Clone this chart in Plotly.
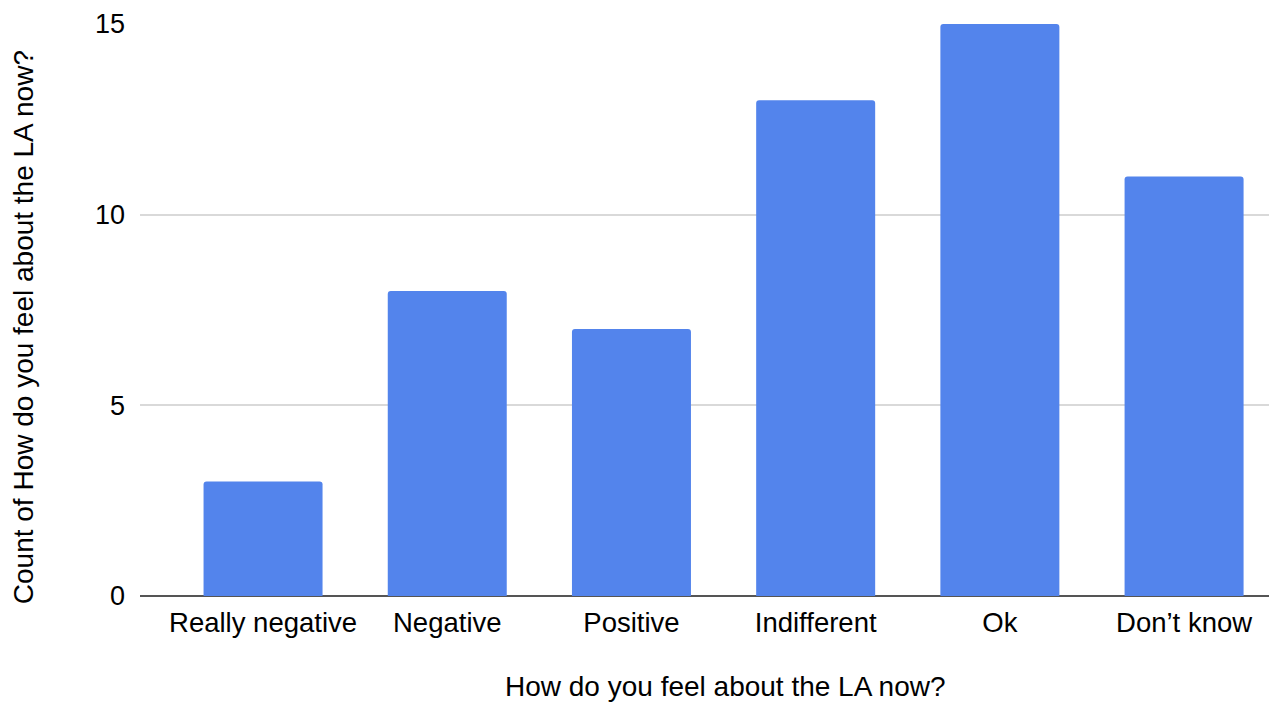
import plotly.graph_objects as go

# Survey responses: how people feel about the LA now
categories = ["Really negative", "Negative", "Positive", "Indifferent", "Ok", "Don’t know"]
counts = [3, 8, 7, 13, 15, 11]
y_ticks = [0, 5, 10, 15]

x_title = "How do you feel about the LA now?"
y_title = "Count of How do you feel about the LA now?"

FONT = "Liberation Sans, Arial, Helvetica, sans-serif"
BAR_COLOR = "#5384ec"

fig = go.Figure(
    go.Bar(
        x=categories,
        y=counts,
        marker=dict(color=BAR_COLOR, line=dict(width=0)),
        width=0.646,
    )
)

fig.update_layout(
    width=1269,
    height=705,
    margin=dict(l=140, r=0, t=24, b=109),
    paper_bgcolor="white",
    plot_bgcolor="white",
    barcornerradius=3,
    showlegend=False,
    font=dict(family=FONT, size=27, color="#000000"),
)

fig.update_xaxes(
    type="category",
    range=[-0.668, 5.461],
    showgrid=False,
    showline=False,
    ticks="",
    ticklabelstandoff=7,
    tickfont=dict(size=27.5, color="#000000"),
    automargin=False,
)

fig.update_yaxes(
    range=[0, 15],
    tickvals=y_ticks,
    ticktext=[str(v) for v in y_ticks],
    showgrid=True,
    gridcolor="#d9d9d9",
    gridwidth=1.5,
    zeroline=True,
    zerolinecolor="#555555",
    zerolinewidth=2,
    showline=False,
    ticks="",
    ticklabelstandoff=14,
    tickfont=dict(size=27, color="#000000"),
    automargin=False,
)

# Axis titles placed as annotations so they can sit off-centre
fig.add_annotation(
    text=x_title, xref="paper", yref="paper", x=0.519, y=-0.1862,
    xanchor="center", yanchor="bottom", showarrow=False, borderpad=0,
    font=dict(size=28, color="#000000"),
)
fig.add_annotation(
    text=y_title, xref="paper", yref="paper", x=-0.1036, y=0.470,
    xanchor="center", yanchor="middle", textangle=-90, showarrow=False,
    font=dict(size=28, color="#000000"),
)

fig.write_html("out.html")
